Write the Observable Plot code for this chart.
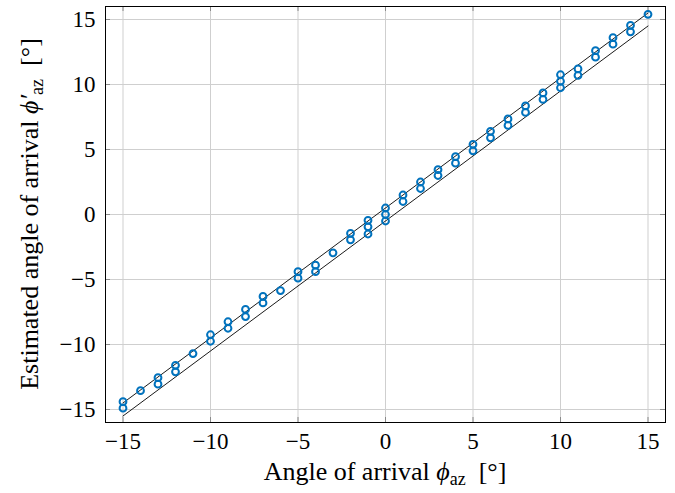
<!DOCTYPE html>
<html><head><meta charset="utf-8">
<script src="https://cdn.jsdelivr.net/npm/d3@7"></script>
<script src="https://cdn.jsdelivr.net/npm/@observablehq/plot@0.6"></script>
<style>body{margin:0;background:#fff}</style>
</head><body><div id="chart"></div>
<script>
// true angle of arrival (deg)
const trueAngle = [-15,-15,-14,-13,-13,-12,-12,-11,-10,-10,-9,-9,-8,-8,-7,-7,-6,-5,-5,-4,-4,-3,-2,-2,-1,-1,-1,0,0,0,1,1,2,2,3,3,4,4,5,5,6,6,7,7,8,8,9,9,10,10,10,11,11,12,12,13,13,14,14,15];
// estimated angle of arrival (deg)
const estAngle = [-14.4,-14.9,-13.55,-12.55,-13.05,-11.6,-12.1,-10.7,-9.25,-9.75,-8.25,-8.75,-7.3,-7.85,-6.3,-6.8,-5.85,-4.4,-4.9,-3.9,-4.4,-2.95,-1.45,-1.95,-0.45,-0.95,-1.5,0.5,0.0,-0.5,1.5,1.0,2.5,2.0,3.45,3.0,4.45,3.95,5.4,4.9,6.4,5.9,7.35,6.85,8.35,7.85,9.35,8.85,10.75,10.25,9.75,11.2,10.7,12.6,12.1,13.6,13.1,14.55,14.05,15.4];
// tolerance bounds
const boundX = [-15, 15];
const upperY = [-14.5, 15.5];
const lowerY = [-15.5, 14.5];
const xTicks = [-15,-10,-5,0,5,10,15];
const yTicks = [-15,-10,-5,0,5,10,15];

const pts = trueAngle.map((a,i)=>({a, e: estAngle[i]}));
const upper = boundX.map((x,i)=>({x, y: upperY[i]}));
const lower = boundX.map((x,i)=>({x, y: lowerY[i]}));
const fmt = d => d < 0 ? "\u2212" + (-d) : String(d);
const serif = "'Liberation Serif', 'DejaVu Serif', serif";

const W = 675, H = 493, mL = 105, mR = 10, mT = 6, mB = 71;
const iw = W - mL - mR, ih = H - mT - mB;

const plot = Plot.plot({
  width: W, height: H,
  marginLeft: mL, marginRight: mR, marginTop: mT, marginBottom: mB,
  x: {domain: [-16, 16], label: null},
  y: {domain: [-16, 16], label: null},
  style: {fontFamily: serif, fontSize: "23px", background: "#fff", color: "#000"},
  marks: [
    Plot.gridX(xTicks, {stroke: "#cfcfcf", strokeOpacity: 1}),
    Plot.gridY(yTicks, {stroke: "#cfcfcf", strokeOpacity: 1}),
    Plot.tickX(xTicks, {x: d => d, stroke: "#8a8a8a", insetTop: ih - 5}),
    Plot.tickX(xTicks, {x: d => d, stroke: "#8a8a8a", insetBottom: ih - 5}),
    Plot.tickY(yTicks, {y: d => d, stroke: "#8a8a8a", insetRight: iw - 5}),
    Plot.tickY(yTicks, {y: d => d, stroke: "#8a8a8a", insetLeft: iw - 5}),
    Plot.line(upper, {x: "x", y: "y", stroke: "#000", strokeWidth: 0.9}),
    Plot.line(lower, {x: "x", y: "y", stroke: "#000", strokeWidth: 0.9}),
    Plot.dot(pts, {x: "a", y: "e", r: 3.4, stroke: "#0072bd", strokeWidth: 2, fill: "none"}),
    Plot.frame({stroke: "#000", strokeWidth: 1}),
    Plot.axisX(xTicks, {tickSize: 0, tickPadding: 10, tickFormat: fmt, fontSize: 23, fill: "#000"}),
    Plot.axisY(yTicks, {tickSize: 0, tickPadding: 10, tickFormat: fmt, fontSize: 23, fill: "#000"})
  ]
});

const svg = d3.select(plot);
svg.selectAll("text").style("font-family", serif).style("font-variant", "normal");

// x-axis label
const xl = svg.append("text")
  .attr("x", mL + iw/2).attr("y", 480)
  .attr("text-anchor", "middle")
  .style("font-family", serif)
  .attr("font-size", 26).attr("fill", "#000");
xl.append("tspan").text("Angle of arrival ");
xl.append("tspan").attr("font-style", "italic").text("\u03D5");
xl.append("tspan").attr("font-size", 18).attr("dy", 5).text("az");
xl.append("tspan").attr("dy", -5).text("\u2002[\u00B0]");

// y-axis label
const yl = svg.append("text")
  .attr("transform", "translate(38,214) rotate(-90)")
  .attr("text-anchor", "middle")
  .style("font-family", serif)
  .attr("font-size", 26).attr("fill", "#000");
yl.append("tspan").text("Estimated angle of arrival ");
yl.append("tspan").attr("font-style", "italic").text("\u03D5\u2032");
yl.append("tspan").attr("font-size", 18).attr("dy", 5).text("az");
yl.append("tspan").attr("dy", -5).text("\u2002[\u00B0]");

document.getElementById("chart").appendChild(plot);
</script>
</body></html>
